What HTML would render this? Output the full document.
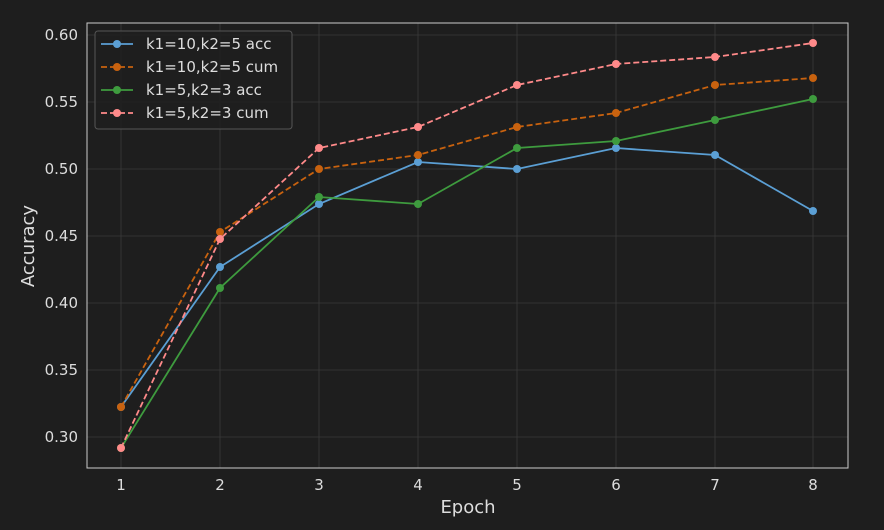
<!DOCTYPE html>
<html><head><meta charset="utf-8"><style>
body{margin:0;background:#1e1e1e;}
svg{display:block;font-family:"DejaVu Sans","Liberation Sans",sans-serif;}
</style></head><body>
<svg width="884" height="530" viewBox="0 0 884 530" xmlns="http://www.w3.org/2000/svg">
<rect width="884" height="530" fill="#1e1e1e"/>
<g stroke="#3a3a3a" stroke-width="0.8">
<line x1="121" y1="23" x2="121" y2="468"/><line x1="220" y1="23" x2="220" y2="468"/><line x1="319" y1="23" x2="319" y2="468"/><line x1="418" y1="23" x2="418" y2="468"/><line x1="517" y1="23" x2="517" y2="468"/><line x1="616" y1="23" x2="616" y2="468"/><line x1="715" y1="23" x2="715" y2="468"/><line x1="813" y1="23" x2="813" y2="468"/>
<line x1="87" y1="35" x2="848" y2="35"/><line x1="87" y1="102" x2="848" y2="102"/><line x1="87" y1="169" x2="848" y2="169"/><line x1="87" y1="236" x2="848" y2="236"/><line x1="87" y1="303" x2="848" y2="303"/><line x1="87" y1="370" x2="848" y2="370"/><line x1="87" y1="437" x2="848" y2="437"/>
</g>
<rect x="87" y="23" width="761" height="445" fill="none" stroke="#cccccc" stroke-width="1"/>
<g fill="#dddddd" font-size="15" text-anchor="end">
<text x="78" y="40">0.60</text><text x="78" y="107">0.55</text><text x="78" y="174">0.50</text><text x="78" y="241">0.45</text><text x="78" y="308">0.40</text><text x="78" y="375">0.35</text><text x="78" y="442">0.30</text>
</g>
<g fill="#dddddd" font-size="15" text-anchor="middle">
<text x="121" y="490">1</text><text x="220" y="490">2</text><text x="319" y="490">3</text><text x="418" y="490">4</text><text x="517" y="490">5</text><text x="616" y="490">6</text><text x="715" y="490">7</text><text x="813" y="490">8</text>
<text x="468" y="513" font-size="18">Epoch</text>
<text transform="translate(34,246) rotate(-90)" font-size="18">Accuracy</text>
</g>
<g stroke-width="1.8" fill="none">
<polyline stroke="#5b9fd4" points="121,407 220,267 319,204 418,162 517,169 616,148 715,155 813,211"/>
<polyline stroke="#c8620f" stroke-dasharray="6,3" points="121,407 220,232 319,169 418,155 517,127 616,113 715,85 813,78"/>
<polyline stroke="#3e9b3e" points="121,448 220,288 319,197 418,204 517,148 616,141 715,120 813,99"/>
<polyline stroke="#ff8a8a" stroke-dasharray="6,3" points="121,448 220,239 319,148 418,127 517,85 616,64 715,57 813,43"/>
</g>
<g fill="#5b9fd4"><circle cx="121" cy="407" r="4"/><circle cx="220" cy="267" r="4"/><circle cx="319" cy="204" r="4"/><circle cx="418" cy="162" r="4"/><circle cx="517" cy="169" r="4"/><circle cx="616" cy="148" r="4"/><circle cx="715" cy="155" r="4"/><circle cx="813" cy="211" r="4"/></g>
<g fill="#c8620f"><circle cx="121" cy="407" r="4"/><circle cx="220" cy="232" r="4"/><circle cx="319" cy="169" r="4"/><circle cx="418" cy="155" r="4"/><circle cx="517" cy="127" r="4"/><circle cx="616" cy="113" r="4"/><circle cx="715" cy="85" r="4"/><circle cx="813" cy="78" r="4"/></g>
<g fill="#3e9b3e"><circle cx="121" cy="448" r="4"/><circle cx="220" cy="288" r="4"/><circle cx="319" cy="197" r="4"/><circle cx="418" cy="204" r="4"/><circle cx="517" cy="148" r="4"/><circle cx="616" cy="141" r="4"/><circle cx="715" cy="120" r="4"/><circle cx="813" cy="99" r="4"/></g>
<g fill="#ff8a8a"><circle cx="121" cy="448" r="4"/><circle cx="220" cy="239" r="4"/><circle cx="319" cy="148" r="4"/><circle cx="418" cy="127" r="4"/><circle cx="517" cy="85" r="4"/><circle cx="616" cy="64" r="4"/><circle cx="715" cy="57" r="4"/><circle cx="813" cy="43" r="4"/></g>
<rect x="95" y="31" width="197" height="98" rx="3" fill="#1e1e1e" fill-opacity="0.85" stroke="#555" stroke-width="1"/>
<g stroke-width="1.8">
<line x1="101" y1="44" x2="133" y2="44" stroke="#5b9fd4"/><circle cx="117" cy="44" r="4" fill="#5b9fd4"/>
<line x1="101" y1="67" x2="133" y2="67" stroke="#c8620f" stroke-dasharray="6,3"/><circle cx="117" cy="67" r="4" fill="#c8620f"/>
<line x1="101" y1="90" x2="133" y2="90" stroke="#3e9b3e"/><circle cx="117" cy="90" r="4" fill="#3e9b3e"/>
<line x1="101" y1="113" x2="133" y2="113" stroke="#ff8a8a" stroke-dasharray="6,3"/><circle cx="117" cy="113" r="4" fill="#ff8a8a"/>
</g>
<g fill="#dddddd" font-size="15">
<text x="146" y="49">k1=10,k2=5 acc</text><text x="146" y="72">k1=10,k2=5 cum</text><text x="146" y="95">k1=5,k2=3 acc</text><text x="146" y="118">k1=5,k2=3 cum</text>
</g>
</svg>
</body></html>
